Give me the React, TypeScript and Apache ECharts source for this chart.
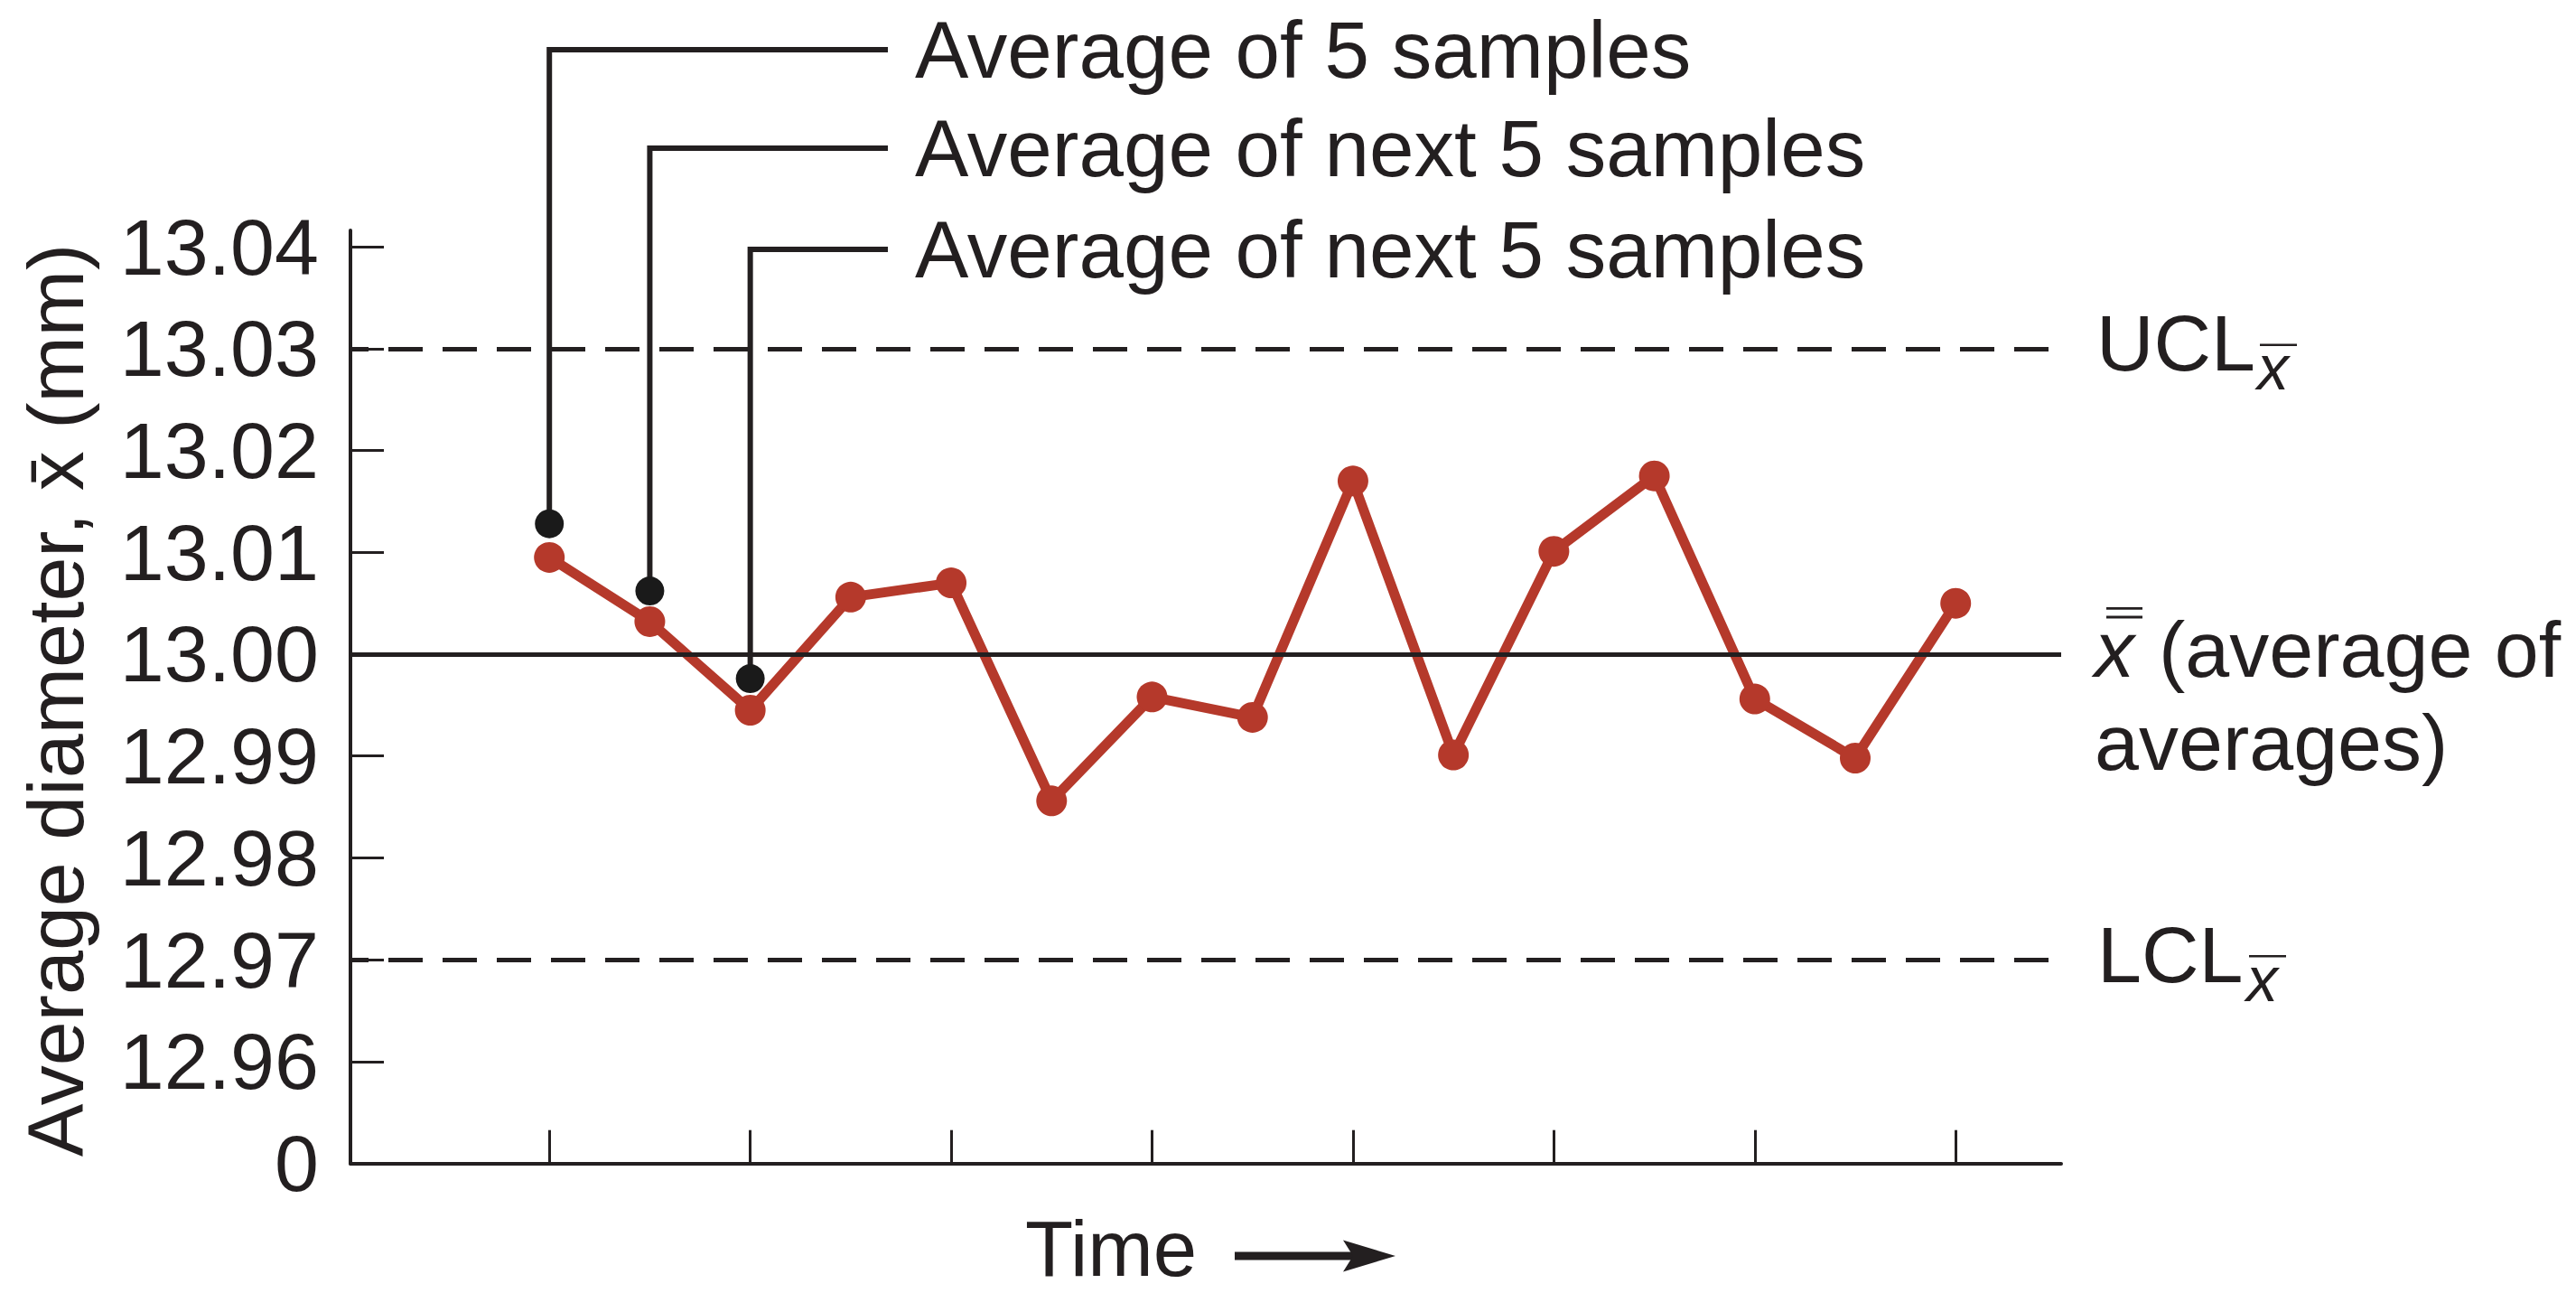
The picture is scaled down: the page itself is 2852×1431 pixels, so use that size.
import React, { useEffect, useRef } from "react";
import * as echarts from "echarts";

// ---- data ----
const sampleTimes = [0, 1, 2, 3, 4, 5, 6, 7, 8, 9, 10, 11, 12, 13, 14];
const sampleAverages = [
  13.0095, 13.0032, 12.9945, 13.0056, 13.007, 12.9856, 12.9958, 12.9938,
  13.017, 12.9901, 13.0101, 13.0175, 12.9956, 12.9898, 13.005,
];
const calloutTimes = [0, 1, 2];
const calloutMarkers = [13.0128, 13.0062, 12.9976];
const calloutLabels = [
  "Average of 5 samples",
  "Average of next 5 samples",
  "Average of next 5 samples",
];
const yTickValues = [12.95, 12.96, 12.97, 12.98, 12.99, 13.0, 13.01, 13.02, 13.03, 13.04];
const yTickLabels = ["0", "12.96", "12.97", "12.98", "12.99", "13.00", "13.01", "13.02", "13.03", "13.04"];
const xTickValues = [0, 2, 4, 6, 8, 10, 12, 14];
const UCL = 13.03;
const CENTER = 13.0;
const LCL = 12.97;
const yAxisTitle = "Average diameter, x\u0304 (mm)";
const xAxisTitle = "Time";

// ---- styling ----
const FONT = '"Liberation Sans", Arial, Helvetica, sans-serif';
const INK = "#231f20";
const RED = "#b5392b";

export default function App() {
  const ref = useRef<HTMLDivElement>(null);

  useEffect(() => {
    const el = ref.current;
    if (!el) return;
    const chart = echarts.init(el, null, { renderer: "svg" });

    const option: any = {
      animation: false,
      backgroundColor: "#ffffff",
      grid: { left: 388, right: 570, top: 255, bottom: 143.3, containLabel: false },
      xAxis: {
        type: "value",
        min: -1.98,
        max: 15.05,
        axisLine: { show: true, onZero: false, lineStyle: { color: INK, width: 4 } },
        axisTick: {
          show: true,
          inside: true,
          length: 37,
          customValues: xTickValues,
          lineStyle: { color: INK, width: 3 },
        },
        axisLabel: { show: false },
        splitLine: { show: false },
      },
      yAxis: {
        type: "value",
        min: 12.95,
        max: 13.0416,
        axisLine: { show: true, onZero: false, lineStyle: { color: INK, width: 4 } },
        axisTick: {
          show: true,
          inside: true,
          length: 37,
          customValues: yTickValues,
          lineStyle: { color: INK, width: 3 },
        },
        axisLabel: {
          show: true,
          customValues: yTickValues,
          margin: 35,
          fontSize: 88,
          fontFamily: FONT,
          color: INK,
          formatter: (v: number) => {
            let best = 0;
            for (let i = 0; i < yTickValues.length; i++) {
              if (Math.abs(yTickValues[i] - v) < Math.abs(yTickValues[best] - v)) best = i;
            }
            return yTickLabels[best];
          },
        },
        splitLine: { show: false },
      },
      series: [
        {
          name: "Sample averages",
          type: "line",
          data: sampleTimes.map((t, i) => [t, sampleAverages[i]]),
          symbol: "circle",
          symbolSize: 34,
          showSymbol: true,
          lineStyle: { color: RED, width: 11 },
          itemStyle: { color: RED, opacity: 1 },
          z: 2,
          silent: true,
        },
        {
          name: "Control lines",
          type: "line",
          data: [],
          z: 4,
          silent: true,
          markLine: {
            silent: true,
            symbol: "none",
            label: { show: false },
            emphasis: { disabled: true },
            data: [
              { yAxis: UCL, lineStyle: { color: INK, width: 5, type: [38, 22], dashOffset: 18 } },
              { yAxis: CENTER, lineStyle: { color: INK, width: 5, type: "solid" } },
              { yAxis: LCL, lineStyle: { color: INK, width: 5, type: [38, 22], dashOffset: 18 } },
            ],
          },
        },
        {
          name: "Callout markers",
          type: "scatter",
          data: calloutTimes.map((t, i) => [t, calloutMarkers[i]]),
          symbol: "circle",
          symbolSize: 32,
          itemStyle: { color: "#1a1a1a", opacity: 1 },
          z: 6,
          silent: true,
        },
      ],
    };

    chart.setOption(option);

    const toPx = (x: number, y: number) =>
      chart.convertToPixel({ gridIndex: 0 }, [x, y]) as number[];

    const elements: any[] = [];

    // callout leader lines and labels
    const levels = [55, 164, 276];
    const leaderEndX = 983;
    const labelX = 1013;
    calloutTimes.forEach((t, i) => {
      const [px, py] = toPx(t, calloutMarkers[i]);
      elements.push({
        type: "polyline",
        z: 5,
        silent: true,
        shape: { points: [[px, py], [px, levels[i]], [leaderEndX, levels[i]]] },
        style: { stroke: INK, lineWidth: 6, fill: null, lineJoin: "miter" },
      });
      elements.push({
        type: "text",
        silent: true,
        x: labelX,
        y: levels[i],
        style: {
          text: calloutLabels[i],
          font: `89px ${FONT}`,
          fill: INK,
          textAlign: "left",
          textVerticalAlign: "middle",
        },
      });
    });

    // right-side labels
    const uy = toPx(0, UCL)[1];
    const cy = toPx(0, CENTER)[1];
    const ly = toPx(0, LCL)[1];

    const limitLabel = (name: string, y: number, xText: number, xSub: number) => {
      elements.push({
        type: "text",
        silent: true,
        x: xText,
        y: y - 6,
        style: { text: name, font: `88px ${FONT}`, fill: INK, textAlign: "left", textVerticalAlign: "middle" },
      });
      elements.push({
        type: "text",
        silent: true,
        x: xSub,
        y: y + 21.7,
        style: { text: "x", font: `italic 70px ${FONT}`, fill: INK, textAlign: "left", textVerticalAlign: "middle" },
      });
      elements.push({
        type: "line",
        silent: true,
        shape: { x1: xSub + 3, y1: y - 4, x2: xSub + 44, y2: y - 4 },
        style: { stroke: INK, lineWidth: 2.5 },
      });
    };
    limitLabel("UCL", uy, 2321, 2499);
    limitLabel("LCL", ly, 2322, 2487);

    elements.push({
      type: "text",
      silent: true,
      x: 2319,
      y: cy - 5.6,
      style: { text: "x", font: `italic 88px ${FONT}`, fill: INK, textAlign: "left", textVerticalAlign: "middle" },
    });
    elements.push({
      type: "text",
      silent: true,
      x: 2390,
      y: cy - 5.6,
      style: { text: "(average of", font: `88px ${FONT}`, fill: INK, textAlign: "left", textVerticalAlign: "middle" },
    });
    elements.push({
      type: "text",
      silent: true,
      x: 2319,
      y: cy + 98,
      style: { text: "averages)", font: `88px ${FONT}`, fill: INK, textAlign: "left", textVerticalAlign: "middle" },
    });
    [-50.6, -41].forEach((dy) => {
      elements.push({
        type: "line",
        silent: true,
        shape: { x1: 2332, y1: cy + dy, x2: 2372, y2: cy + dy },
        style: { stroke: INK, lineWidth: 2.8 },
      });
    });

    // y-axis title (rotated)
    elements.push({
      type: "text",
      silent: true,
      x: 61,
      y: 775,
      rotation: Math.PI / 2,
      style: {
        text: yAxisTitle,
        font: `88px ${FONT}`,
        fill: INK,
        textAlign: "center",
        textVerticalAlign: "middle",
      },
    });

    // x-axis title with arrow
    elements.push({
      type: "text",
      silent: true,
      x: 1135,
      y: 1381,
      style: { text: xAxisTitle, font: `87px ${FONT}`, fill: INK, textAlign: "left", textVerticalAlign: "middle" },
    });
    elements.push({
      type: "line",
      silent: true,
      shape: { x1: 1367, y1: 1390, x2: 1500, y2: 1390 },
      style: { stroke: INK, lineWidth: 9 },
    });
    elements.push({
      type: "polygon",
      silent: true,
      shape: {
        points: [
          [1545, 1390],
          [1487, 1372.5],
          [1498, 1390],
          [1487, 1407.5],
        ],
      },
      style: { fill: INK },
    });

    chart.setOption({ graphic: { elements } });

    return () => {
      chart.dispose();
    };
  }, []);

  return (
    <div
      ref={ref}
      style={{ position: "absolute", left: 0, top: 0, width: 2852, height: 1431, background: "#fff" }}
    />
  );
}
